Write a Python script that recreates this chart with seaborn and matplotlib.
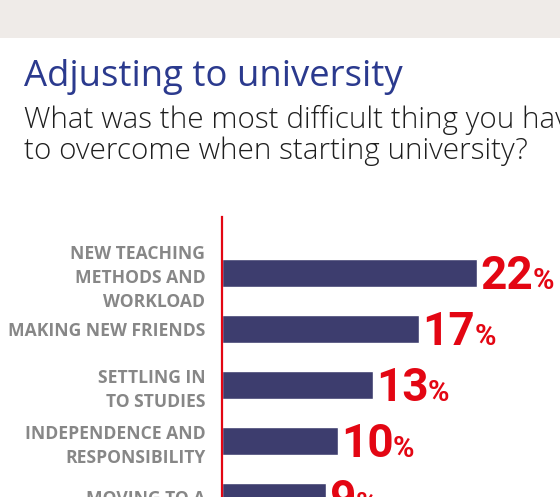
import matplotlib
matplotlib.use("Agg")
import matplotlib.pyplot as plt
import seaborn as sns
import pandas as pd
from matplotlib.patches import Rectangle

# Data
reasons = [
    "NEW TEACHING\nMETHODS AND\nWORKLOAD",
    "MAKING NEW FRIENDS",
    "SETTLING IN\nTO STUDIES",
    "INDEPENDENCE AND\nRESPONSIBILITY",
    "MOVING TO A",
]
shares = [22, 17, 13, 10, 9]

title = "Adjusting to university"
subtitle_lines = ["What was the most difficult thing you have",
                  "to overcome when starting university?"]

navy_bar = "#3d3d6e"
title_blue = "#2b3a8e"
red = "#e30613"
label_grey = "#878787"

df = pd.DataFrame({"reason": reasons, "share": shares})

sns.set_style("white")
plt.rcParams["font.family"] = ["Open Sans", "DejaVu Sans"]

W, H = 560, 497
fig = plt.figure(figsize=(W / 100, H / 100), dpi=100)
fig.patch.set_facecolor("white")

# light grey band at the top
fig.patches.append(Rectangle((0, 1 - 38 / H), 1, 38 / H, transform=fig.transFigure,
                             facecolor="#efebe8", edgecolor="none", zorder=0))

fig.text(24 / W, 1 - 86 / H, title, color=title_blue, fontsize=26.3, va="baseline", ha="left")
for k, line in enumerate(subtitle_lines):
    fig.text(24 / W, 1 - (128 + 31 * k) / H, line, color="#1e1e1e", fontsize=21.3,
             va="baseline", ha="left", fontweight="light")

ax = fig.add_axes([222 / W, 0, (W - 222) / W, 280 / H])
sns.barplot(data=df, y="reason", x="share", ax=ax, color=navy_bar, width=0.5,
            orient="h", saturation=1)
ax.set_ylim(4.0, -1.0)
ax.set_xlim(0, (W - 222) / 11.6)
ax.set_xlabel("")
ax.set_ylabel("")
ax.set_xticks([])
for s in ["top", "right", "bottom"]:
    ax.spines[s].set_visible(False)
ax.spines["left"].set_color(red)
ax.spines["left"].set_linewidth(1.6)
ax.tick_params(axis="y", length=0, pad=12)
for lab in ax.get_yticklabels():
    lab.set_color(label_grey)
    lab.set_fontweight("bold")
    lab.set_fontsize(12.6)
    lab.set_linespacing(1.45)
    lab.set_multialignment("right")

# big red percentage labels, with a smaller % sign
nums = []
for i, v in enumerate(shares):
    t = ax.text(v + 0.3, i + 0.29, str(v), color=red, fontsize=33, fontweight="bold",
                family=["Roboto", "DejaVu Sans"], va="baseline", ha="left", clip_on=False)
    nums.append(t)

fig.canvas.draw()
inv = ax.transData.inverted()
for i, t in enumerate(nums):
    bb = t.get_window_extent()
    xd = inv.transform((bb.x1 - 1, 0))[0]
    ax.text(xd, i + 0.29, "%", color=red, fontsize=21, fontweight="bold",
            family=["Roboto", "DejaVu Sans"], va="baseline", ha="left", clip_on=False)

fig.savefig("out.png", dpi=100)
